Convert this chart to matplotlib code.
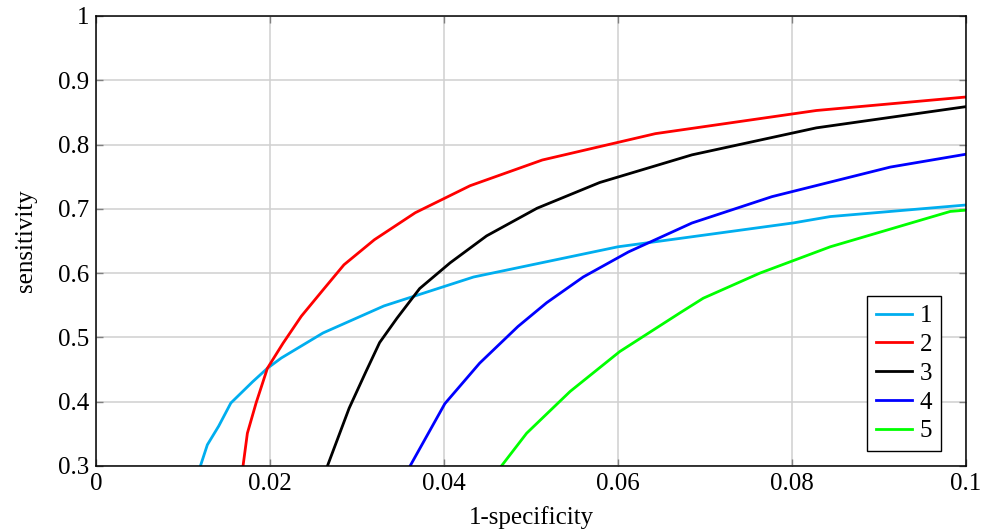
import matplotlib
matplotlib.use('Agg')
import matplotlib.pyplot as plt

# ROC-like curves
fpr_1 = [0.0120, 0.0128, 0.0141, 0.0155, 0.0180, 0.0197, 0.0213, 0.0261, 0.0331, 0.0434, 0.0600, 0.0671, 0.0801, 0.0844, 0.1000]
tpr_1 = [0.300, 0.333, 0.362, 0.398, 0.431, 0.452, 0.468, 0.507, 0.549, 0.594, 0.641, 0.654, 0.678, 0.688, 0.706]

fpr_2 = [0.0169, 0.0174, 0.0184, 0.0197, 0.0215, 0.0236, 0.0261, 0.0285, 0.0320, 0.0367, 0.0430, 0.0513, 0.0643, 0.0828, 0.1000]
tpr_2 = [0.300, 0.351, 0.398, 0.452, 0.491, 0.533, 0.574, 0.613, 0.652, 0.694, 0.736, 0.776, 0.817, 0.853, 0.874]

fpr_3 = [0.0266, 0.0291, 0.0310, 0.0326, 0.0346, 0.0372, 0.0407, 0.0449, 0.0507, 0.0579, 0.0685, 0.0828, 0.1000]
tpr_3 = [0.300, 0.390, 0.446, 0.492, 0.530, 0.576, 0.616, 0.658, 0.701, 0.741, 0.784, 0.826, 0.859]

fpr_4 = [0.0361, 0.0401, 0.0441, 0.0485, 0.0518, 0.0560, 0.0612, 0.0685, 0.0777, 0.0913, 0.1000]
tpr_4 = [0.300, 0.397, 0.460, 0.517, 0.554, 0.594, 0.633, 0.678, 0.719, 0.765, 0.785]

fpr_5 = [0.0466, 0.0495, 0.0545, 0.0602, 0.0671, 0.0698, 0.0763, 0.0844, 0.0982, 0.1000]
tpr_5 = [0.300, 0.351, 0.416, 0.478, 0.538, 0.561, 0.600, 0.641, 0.696, 0.698]

labels = ['1', '2', '3', '4', '5']
colors = ['#00aeef', '#ff0000', '#000000', '#0000ff', '#00ff00']

xticks = [0, 0.02, 0.04, 0.06, 0.08, 0.1]
xtick_labels = ['0', '0.02', '0.04', '0.06', '0.08', '0.1']
yticks = [0.3, 0.4, 0.5, 0.6, 0.7, 0.8, 0.9, 1.0]
ytick_labels = ['0.3', '0.4', '0.5', '0.6', '0.7', '0.8', '0.9', '1']

plt.rcParams['font.family'] = ['Liberation Serif', 'DejaVu Serif']
plt.rcParams['font.size'] = 18

fig = plt.figure(figsize=(9.84, 5.32), dpi=100)
ax = fig.add_axes([96 / 984, 1 - 466 / 532, 870 / 984, 450 / 532])

series = [(fpr_1, tpr_1), (fpr_2, tpr_2), (fpr_3, tpr_3), (fpr_4, tpr_4), (fpr_5, tpr_5)]
for (x, y), lab, c in zip(series, labels, colors):
    ax.plot(x, y, color=c, lw=2.0, label=lab, solid_joinstyle='round')

ax.set_xlim(0, 0.1)
ax.set_ylim(0.3, 1.0)
ax.set_xticks(xticks)
ax.set_xticklabels(xtick_labels)
ax.set_yticks(yticks)
ax.set_yticklabels(ytick_labels)
ax.grid(True, color='#d0d0d0', lw=1.1)
ax.set_axisbelow(True)
ax.tick_params(direction='in', length=5, width=1, color='#808080',
               top=True, right=True, labelsize=18, pad=5)
for s in ax.spines.values():
    s.set_linewidth(1.1)
    s.set_color('black')

ax.set_xlabel('1-specificity', fontsize=18, labelpad=8)
ax.set_ylabel('sensitivity', fontsize=18, labelpad=15)

leg = ax.legend(loc='lower right', bbox_to_anchor=(0.971, 0.033), borderaxespad=0,
                fancybox=False, edgecolor='black', framealpha=1, fontsize=18,
                handlelength=1.45, handletextpad=0.3, labelspacing=0.25,
                borderpad=0.35)
leg.get_frame().set_linewidth(1.0)

fig.savefig('out.png', dpi=100)
plt.close(fig)
